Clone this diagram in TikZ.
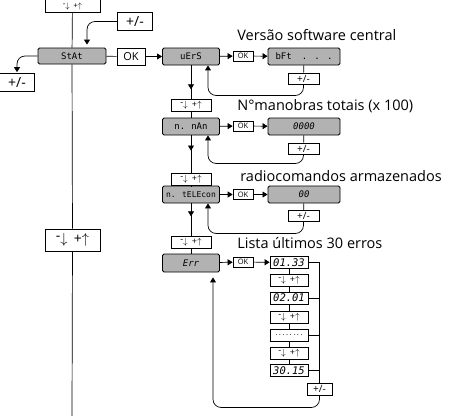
\documentclass[tikz,border=0pt]{standalone}
\usepackage{fontspec}
\setmainfont{Open Sans}
\newfontfamily\segfont{DejaVu Sans Mono}
\usetikzlibrary{arrows.meta,calc,decorations.markings}

\definecolor{dispgray}{RGB}{178,178,178}
\newcommand{\updn}{\raisebox{0.45ex}{-}$\downarrow$\hspace{0.45em}+$\uparrow$}

\tikzset{
  every path/.style={line width=0.7pt},
  arr/.style={-{Triangle[width=6pt,length=5pt]}},
  midarr/.style={postaction={decorate},
    decoration={markings, mark=at position #1 with {\arrow{Triangle[width=6pt,length=5pt]}}}},
  disp/.style={draw, line width=0.9pt, fill=dispgray, rounded corners=1.5pt,
    minimum width=57pt, minimum height=17pt, inner sep=0pt, font=\segfont\fontsize{9}{9}\selectfont},
  errbox/.style={draw, minimum width=38pt, minimum height=12pt, inner sep=0pt,
    font=\segfont\itshape\fontsize{10.5}{10.5}\selectfont},
  bigkey/.style={draw, minimum width=55pt, minimum height=22pt, inner sep=0pt, font=\fontsize{14}{14}\selectfont},
  smallkey/.style={draw, minimum width=40pt, minimum height=12pt, inner sep=0pt, font=\fontsize{9}{9}\selectfont},
  bigpm/.style={draw, minimum width=35pt, minimum height=18pt, inner sep=0pt, font=\fontsize{14}{14}\selectfont},
  smallpm/.style={draw, minimum width=31pt, minimum height=11pt, inner sep=0pt, font=\fontsize{10}{10}\selectfont},
  okbig/.style={draw, minimum width=28pt, minimum height=17pt, inner sep=0pt, font=\fontsize{11}{11}\selectfont},
  oksmall/.style={draw, minimum width=20pt, minimum height=10pt, inner sep=0pt, font=\fontsize{7.5}{7.5}\selectfont},
  lbl/.style={anchor=west, inner sep=0pt, font=\fontsize{14.5}{14.5}\selectfont}
}

\begin{document}
\begin{tikzpicture}[x=1pt,y=-1pt]
\useasboundingbox (0,0) rectangle (459,416);

% main column
\node[bigkey, minimum height=0pt, text height=18pt, text depth=2pt, inner ysep=2pt, anchor=south,
  font=\fontsize{8}{8}\selectfont] (topkey) at (72.5,13) {\updn};
\node[disp, minimum width=68pt, minimum height=16pt] (stat) at (72,56) {StAt};
\node[bigkey] (lkey) at (72.5,240) {\updn};
\coordinate (bottom) at (72,416);
\draw (topkey) -- (stat);
\draw (stat) -- (lkey);
\draw (lkey) -- (bottom);

\node[bigpm] (pmtop) at (135,21.5) {+/-};
\node[bigpm] (pmleft) at (17,82.5) {+/-};
\draw[arr, rounded corners=8pt, shorten >=3pt] (pmtop.west) -| ([xshift=15pt]stat.north);
\draw[arr, rounded corners=8pt, shorten >=1pt] (stat.west) -| (pmleft.north);

\node[okbig] (ok0) at (131,56.5) {OK};
\draw (stat) -- (ok0);

% version
\node[disp] (vers) at (191,56.5) {uErS};
\node[oksmall] (ok1) at (243,56) {OK};
\node[disp, minimum width=72pt] (bft) at (304,56.5) {bFt\hspace{10pt}. . .};
\node[smallpm] (pm1) at (303.5,78.5) {+/-};
\node[lbl] (lvers) at (237,35) {Versão software central};
\draw[arr] (ok0) -- (vers);
\draw[arr] (vers) -- (ok1);
\draw[arr] (ok1) -- (bft);
\draw (bft) -- (pm1);
\draw[arr, rounded corners=8pt] (pm1.south) |- ($(vers.south)+(17,30)$) -- ([xshift=17pt]vers.south);

% manobras
\node[smallkey] (key1) at (191,105) {\updn};
\node[disp] (nman) at (191,126.5) {n.\hspace{6pt}nAn};
\node[oksmall] (ok2) at (243,126) {OK};
\node[disp, minimum width=72pt, font=\segfont\itshape\fontsize{9}{9}\selectfont] (zero4) at (304,126.5) {0000};
\node[smallpm] (pm2) at (303.5,148.5) {+/-};
\node[lbl] (lman) at (237,106) {N°manobras totais (x 100)};
\draw[midarr=0.72] (vers) -- (key1);
\draw (key1) -- (nman);
\draw[arr] (nman) -- (ok2);
\draw[arr] (ok2) -- (zero4);
\draw (zero4) -- (pm2);
\draw[arr, rounded corners=8pt] (pm2.south) |- ($(nman.south)+(17,28)$) -- ([xshift=17pt]nman.south);

% telecomandos
\node[smallkey] (key2) at (191,179.5) {\updn};
\node[disp, font=\segfont\fontsize{8}{8}\selectfont] (ntel) at (191,194.5) {n. tELEcon};
\node[oksmall] (ok3) at (243,194.5) {OK};
\node[disp, minimum width=72pt, font=\segfont\itshape\fontsize{9}{9}\selectfont] (zero2) at (304,194.5) {00};
\node[smallpm] (pm3) at (303.5,216) {+/-};
\node[lbl] (ltel) at (240,176) {radiocomandos armazenados};
\draw[midarr=0.4] (nman) -- (key2);
\draw (key2) -- (ntel);
\draw[arr] (ntel) -- (ok3);
\draw[arr] (ok3) -- (zero2);
\draw (zero2) -- (pm3);
\draw[arr, rounded corners=8pt] (pm3.south) |- ($(ntel.south)+(17,30)$) -- ([xshift=17pt]ntel.south);

% erros
\node[smallkey] (key3) at (191,242) {\updn};
\node[disp, minimum height=18pt, font=\segfont\itshape\fontsize{9}{9}\selectfont] (err) at (191,263) {Err};
\node[oksmall] (ok4) at (243,262) {OK};
\node[lbl] (lerr) at (237,243) {Lista últimos 30 erros};
\draw[midarr=0.4] (ntel) -- (key3);
\draw (key3) -- (err);
\draw[arr] (err) -- (ok4);

\node[errbox] (e1) at (289,262.5) {01.33};
\node[smallkey, minimum width=38pt] (t1) at (289,280) {\updn};
\node[errbox] (e2) at (289,298) {02.01};
\node[smallkey, minimum width=38pt] (t2) at (289,317.5) {\updn};
\node[errbox, font=\segfont\fontsize{6}{6}\selectfont] (e3) at (289,335) {........};
\node[smallkey, minimum width=38pt] (t3) at (289,353.5) {\updn};
\node[errbox] (e4) at (289,370.5) {30.15};
\node[smallpm, minimum width=25pt, minimum height=12pt] (pm4) at (319.5,389) {+/-};
\draw[arr] (ok4) -- (e1);
\foreach \a/\b in {e1/t1,t1/e2,e2/t2,t2/e3,e3/t3,t3/e4}
  \draw (\a) -- (\b);
\draw (e1.east) -- (e1.east -| pm4.north) -- (pm4.north);
\foreach \e in {e2,e3,e4}
  \draw (\e.east) -- (\e.east -| pm4.north);
\draw[arr, rounded corners=8pt, shorten >=5pt] (pm4.south) |- ($(err.south)+(22,135)$) -- ([xshift=22pt]err.south);

\end{tikzpicture}
\end{document}
